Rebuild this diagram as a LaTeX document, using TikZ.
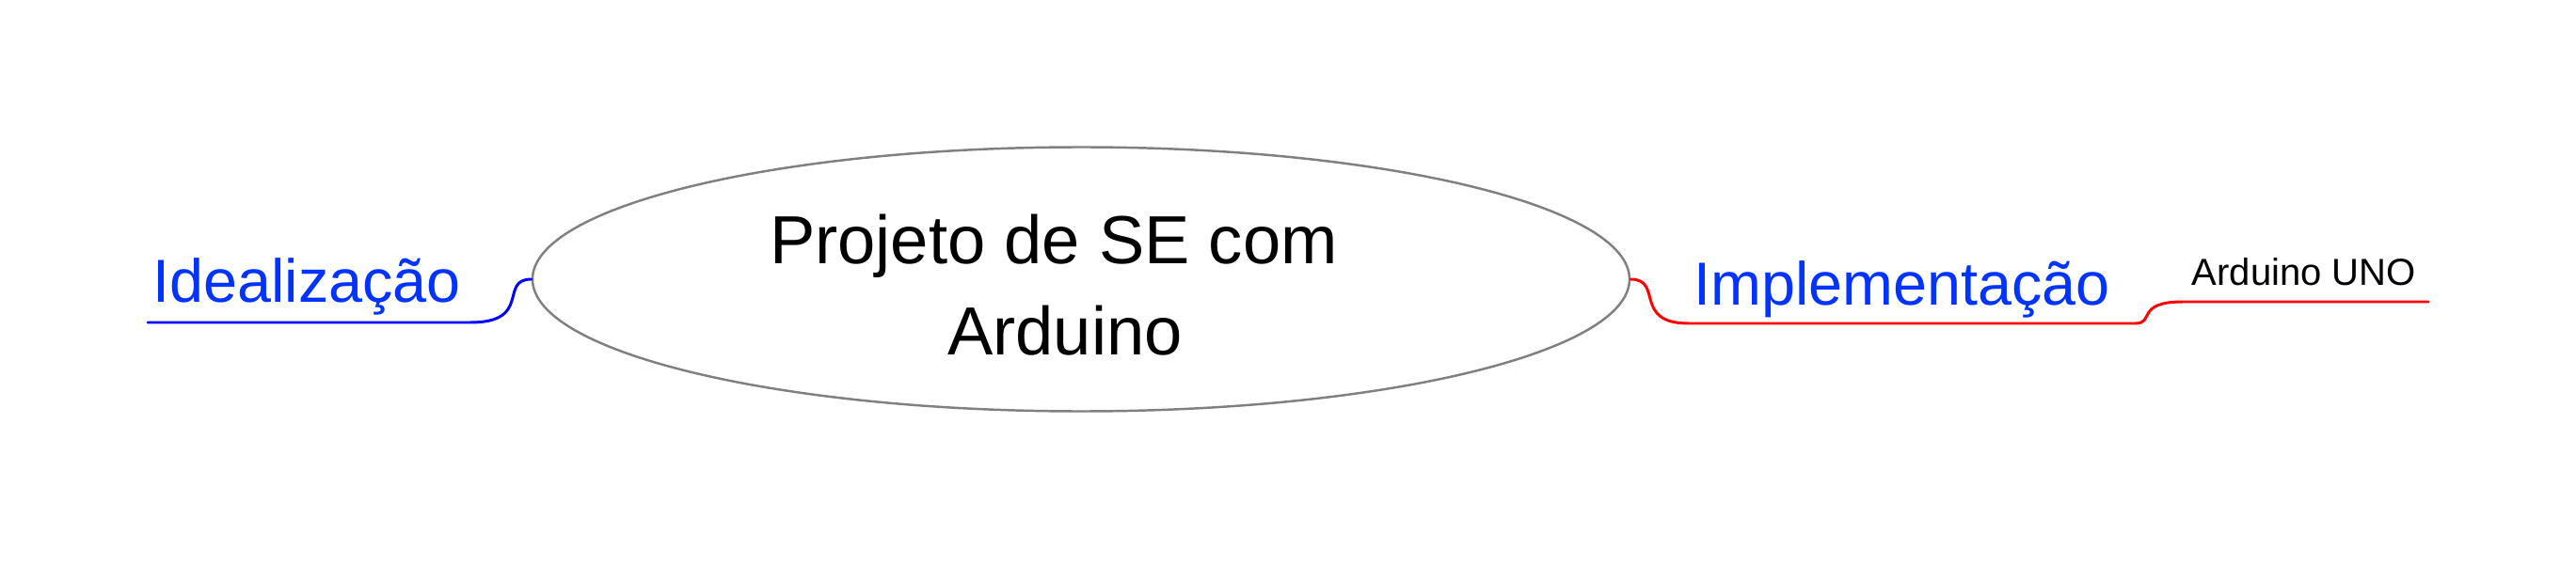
\documentclass[tikz,border=0pt]{standalone}
\usepackage{fontspec}
\setmainfont{Liberation Sans}
\usepackage{tikz}
\usetikzlibrary{shapes.geometric, positioning}
\definecolor{ramoazul}{RGB}{0,0,255}
\definecolor{textoazul}{RGB}{0,51,255}
\definecolor{ramovermelho}{RGB}{255,0,0}
\definecolor{bordacinza}{RGB}{128,128,128}

\begin{document}
\begin{tikzpicture}[
  topico/.style={inner sep=0pt, anchor=base west, text=textoazul, font=\fontsize{18.4}{21}\selectfont},
  ramo/.style={line width=0.85pt, line cap=round}]
\useasboundingbox (0, 0) rectangle (27.38, 6);
\node [ellipse, draw=bordacinza, line width=0.7pt, minimum width=11.66cm, minimum height=2.81cm, inner sep=0pt] (core) at (11.49, 3.03) {};
\node [align=center, font=\fontsize{20.6}{27.6}\selectfont] (title) at (11.32, 2.97) {Projeto de SE com\hspace*{0.24cm}\\Arduino};
\node [topico] (ideal) at (1.62, 2.79) {Idealização};
\node [topico] (impl) at (18.00, 2.76) {Implementação};
\node [inner sep=0pt, anchor=base west, font=\fontsize{11.4}{13}\selectfont] (uno) at (23.29, 2.96) {Arduino UNO};
\coordinate (ideal-knee) at (5.00, 2.57);
\coordinate (ideal-end) at (1.57, 2.57);
\coordinate (impl-knee) at (17.95, 2.56);
\coordinate (uno-knee) at (22.70, 2.56);
\coordinate (uno-start) at (23.20, 2.79);
\coordinate (uno-end) at (25.81, 2.79);
\draw [ramo, color=ramoazul] (core.west) .. controls +(-0.35, 0) and +(0.66, 0) .. (ideal-knee) -- (ideal-end);
\draw [ramo, color=ramovermelho] (core.east) .. controls +(0.35, 0) and +(-0.60, 0) .. (impl-knee) -- (uno-knee);
\draw [ramo, color=ramovermelho] (uno-knee) .. controls +(0.20, 0) and +(-0.50, 0) .. (uno-start) -- (uno-end);
\end{tikzpicture}
\end{document}
